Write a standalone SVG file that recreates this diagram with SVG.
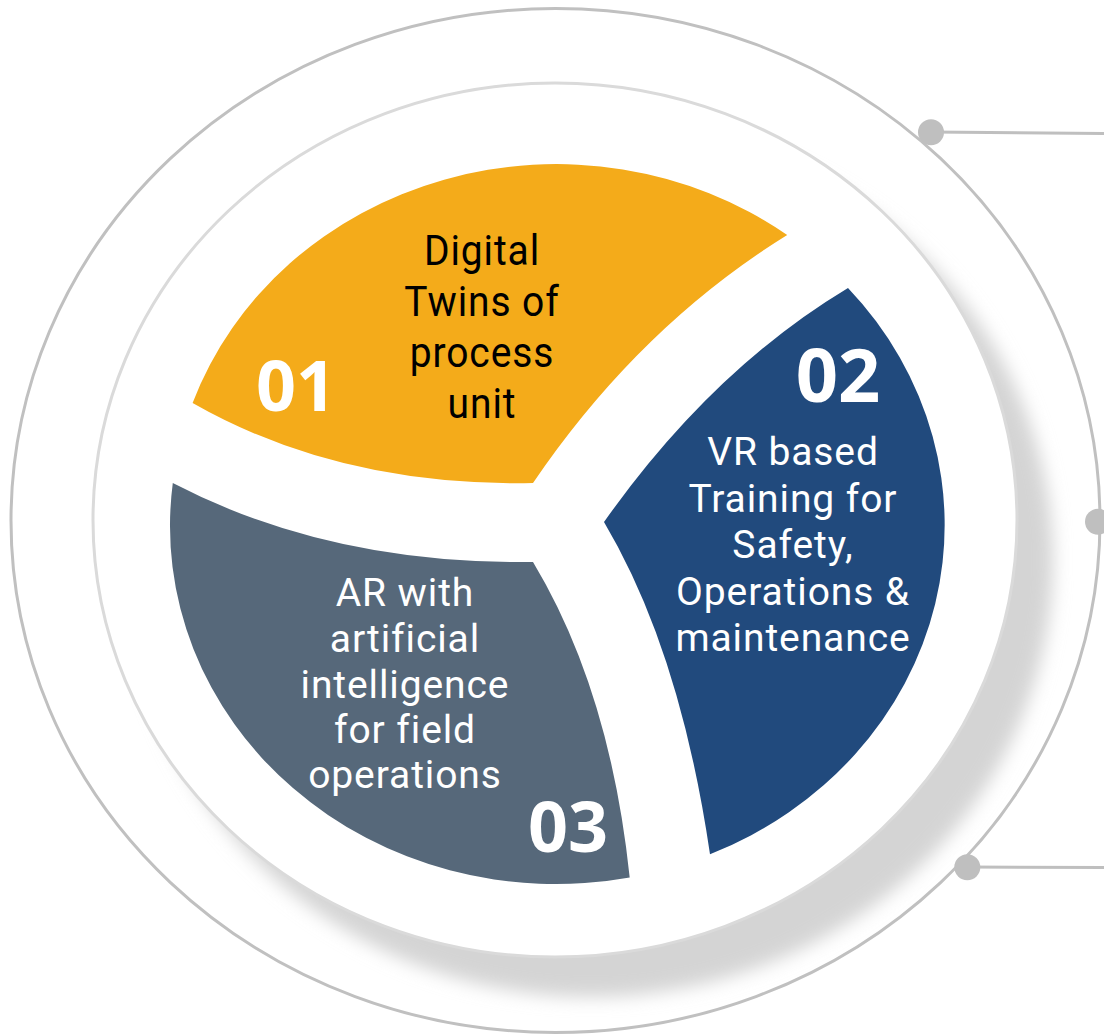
<svg xmlns="http://www.w3.org/2000/svg" width="1104" height="1035" viewBox="0 0 1104 1035">
  <defs>
    <filter id="shadowBlur" x="-10%" y="-10%" width="120%" height="120%">
      <feGaussianBlur stdDeviation="9"/>
    </filter>
  </defs>
  <style>
    .txt { font-family: Roboto, "Open Sans", "Liberation Sans", sans-serif; font-size: 39px; letter-spacing: 0.9px; text-anchor: middle; }
    .num { font-family: "Open Sans", "Noto Sans", "Liberation Sans", sans-serif; font-weight: bold; fill: #ffffff; text-anchor: middle; }
    .white { fill: #ffffff; }
    .black { fill: #000000; }
    .conn { stroke: #bfbfbf; stroke-width: 3; fill: none; }
    .dot { fill: #bfbfbf; }
  </style>
  <rect width="1104" height="1035" fill="#ffffff"/>

  <g id="rings">
    <ellipse cx="555.5" cy="520.5" rx="544.5" ry="512" fill="#ffffff" stroke="#c0c0c0" stroke-width="3"/>
    <ellipse cx="591" cy="560" rx="462" ry="437" fill="#d4d4d4" filter="url(#shadowBlur)"/>
    <ellipse cx="555" cy="520" rx="462" ry="437" fill="#ffffff" stroke="#dadada" stroke-width="3"/>
  </g>

  <g id="seg-01">
    <path d="M 192.6,403 A 386 358 0 0 1 787.2,235 Q 639,327 533,483 Q 340,487 192.6,403 Z" fill="#f4ab1a"/>
    <text class="num" x="296" y="411" font-size="70">01</text>
    <g transform="translate(482,265) scale(1,1.1)">
      <text class="txt black"><tspan x="0" y="0">Digital</tspan><tspan x="0" y="46.4">Twins of</tspan><tspan x="0" y="92.7">process</tspan><tspan x="0" y="139.1">unit</tspan></text>
    </g>
  </g>

  <g id="seg-02">
    <path d="M 848,288 A 386 358 0 0 1 710,854.3 Q 680,650 604,522 Q 711.5,370 848,288 Z" fill="#214a7d"/>
    <text class="num" x="838" y="402" font-size="74">02</text>
    <text class="txt white"><tspan x="793" y="465">VR based</tspan><tspan x="793" y="511.7">Training for</tspan><tspan x="793" y="558.3">Safety,</tspan><tspan x="793" y="605">Operations &amp;</tspan><tspan x="793" y="650.7">maintenance</tspan></text>
  </g>

  <g id="seg-03">
    <path d="M 629.7,877.5 A 386 358 0 0 1 172.8,483 Q 330,565 533,562 Q 610,690 629.7,877.5 Z" fill="#56687a"/>
    <text class="num" x="568" y="852" font-size="70">03</text>
    <text class="txt white"><tspan x="405" y="605.7">AR with</tspan><tspan x="405" y="651.7">artificial</tspan><tspan x="405" y="697.7">intelligence</tspan><tspan x="405" y="743.3">for field</tspan><tspan x="405" y="788.3">operations</tspan></text>
  </g>

  <g id="connectors">
    <line class="conn" x1="931" y1="132" x2="1104" y2="133.5"/>
    <line class="conn" x1="967" y1="867" x2="1104" y2="867.5"/>
    <circle class="dot" cx="931" cy="132.3" r="13"/>
    <circle class="dot" cx="1098" cy="521.7" r="13"/>
    <circle class="dot" cx="967.3" cy="867.3" r="13"/>
  </g>
</svg>
